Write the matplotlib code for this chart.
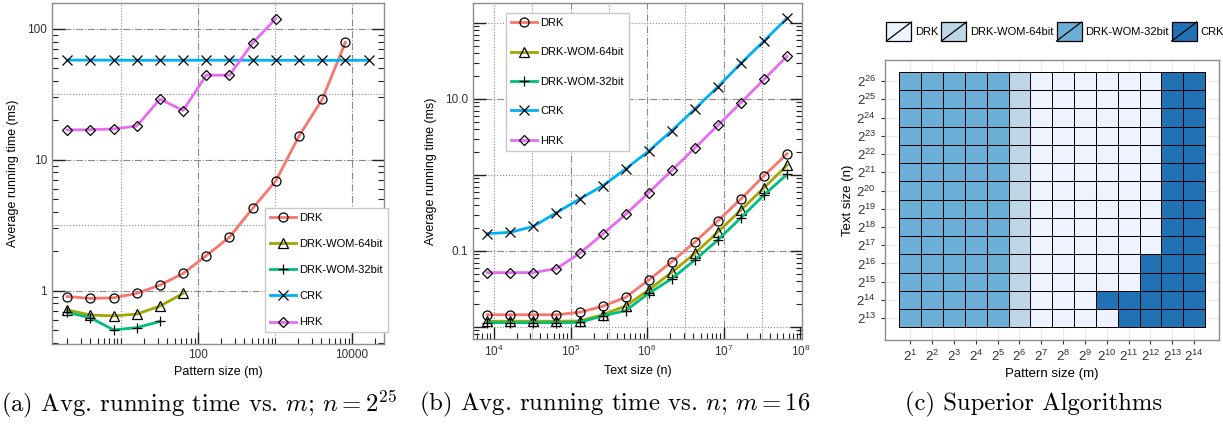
import numpy as np
import matplotlib
matplotlib.use('Agg')
import matplotlib.pyplot as plt
from matplotlib.patches import Rectangle, Patch
from matplotlib.lines import Line2D
from matplotlib.colors import ListedColormap, BoundaryNorm
from matplotlib.ticker import FixedLocator, LogLocator, NullFormatter, FixedFormatter

plt.rcParams['font.family'] = ['Liberation Sans', 'DejaVu Sans']
plt.rcParams['mathtext.fontset'] = 'cm'

# ---------------- data ----------------
series_names = ['DRK', 'DRK-WOM-64bit', 'DRK-WOM-32bit', 'CRK', 'HRK']
series_colors = ['#F8766D', '#A3A500', '#00BF7D', '#00B0F6', '#E76BF3']
series_markers = ['o', '^', '+', 'x', 'D']

# Panel (a): n = 2^25, pattern sizes m = 2^1 ... 2^14
a_m_exp = [1, 2, 3, 4, 5, 6, 7, 8, 9, 10, 11, 12, 13, 14]
a_drk = [0.90, 0.87, 0.88, 0.95, 1.10, 1.35, 1.85, 2.56, 4.25, 6.9, 15.2, 28.9, 79]
a_wom64 = [0.71, 0.65, 0.64, 0.66, 0.76, 0.95]
a_wom32 = [0.68, 0.62, 0.50, 0.52, 0.58]
a_crk = [57.8, 57.8, 57.8, 57.6, 57.7, 57.7, 57.7, 57.7, 57.7, 57.6, 57.6, 57.6, 57.6, 57.6]
a_hrk = [16.9, 17.0, 17.2, 18.1, 29.1, 23.8, 44.4, 44.2, 78.2, 120]

# Panel (b): m = 16, text sizes n = 2^13 ... 2^26
b_n_exp = [13, 14, 15, 16, 17, 18, 19, 20, 21, 22, 23, 24, 25, 26]
b_drk = [0.0145, 0.0145, 0.0145, 0.0145, 0.0156, 0.0187, 0.0246, 0.0415, 0.0724, 0.131, 0.25, 0.483, 0.98, 1.9]
b_wom64 = [0.0119, 0.0119, 0.0119, 0.0119, 0.0120, 0.0145, 0.0189, 0.0307, 0.0525, 0.093, 0.178, 0.347, 0.68, 1.34]
b_wom32 = [0.0114, 0.0114, 0.0114, 0.0114, 0.0115, 0.0140, 0.0164, 0.0277, 0.0432, 0.076, 0.14, 0.274, 0.546, 1.02]
b_crk = [0.169, 0.176, 0.211, 0.319, 0.483, 0.72, 1.2, 2.07, 3.83, 7.38, 14.5, 29.5, 58, 116]
b_hrk = [0.0519, 0.0519, 0.052, 0.0585, 0.093, 0.166, 0.304, 0.585, 1.15, 2.26, 4.51, 8.94, 18.1, 36.5]

# Panel (c): superior algorithm, rows n = 2^13..2^26, cols m = 2^1..2^14
c_names = ['DRK', 'DRK-WOM-64bit', 'DRK-WOM-32bit', 'CRK']
c_colors = ['#EFF3FF', '#BDD7E7', '#6BAED6', '#2171B5']
c_m_exp = [1, 2, 3, 4, 5, 6, 7, 8, 9, 10, 11, 12, 13, 14]
c_n_exp = [13, 14, 15, 16, 17, 18, 19, 20, 21, 22, 23, 24, 25, 26]
c_winner = [
    [2, 2, 2, 2, 2, 1, 0, 0, 0, 0, 3, 3, 3, 3],  # 2^13
    [2, 2, 2, 2, 2, 1, 0, 0, 0, 3, 3, 3, 3, 3],  # 2^14
    [2, 2, 2, 2, 2, 1, 0, 0, 0, 0, 0, 3, 3, 3],  # 2^15
    [2, 2, 2, 2, 2, 1, 0, 0, 0, 0, 0, 3, 3, 3],  # 2^16
    [2, 2, 2, 2, 2, 1, 0, 0, 0, 0, 0, 0, 3, 3],  # 2^17
    [2, 2, 2, 2, 2, 1, 0, 0, 0, 0, 0, 0, 3, 3],  # 2^18
    [2, 2, 2, 2, 2, 1, 0, 0, 0, 0, 0, 0, 3, 3],  # 2^19
    [2, 2, 2, 2, 2, 1, 0, 0, 0, 0, 0, 0, 3, 3],  # 2^20
    [2, 2, 2, 2, 2, 1, 0, 0, 0, 0, 0, 0, 3, 3],  # 2^21
    [2, 2, 2, 2, 2, 1, 0, 0, 0, 0, 0, 0, 3, 3],  # 2^22
    [2, 2, 2, 2, 2, 1, 0, 0, 0, 0, 0, 0, 3, 3],  # 2^23
    [2, 2, 2, 2, 2, 1, 0, 0, 0, 0, 0, 0, 3, 3],  # 2^24
    [2, 2, 2, 2, 2, 1, 0, 0, 0, 0, 0, 0, 3, 3],  # 2^25
    [2, 2, 2, 2, 2, 1, 0, 0, 0, 0, 0, 0, 3, 3],  # 2^26
]

captions = [r'(a) Avg. running time vs. $m$; $n = 2^{25}$',
            r'(b) Avg. running time vs. $n$; $m = 16$',
            r'(c) Superior Algorithms']

# ---------------- figure ----------------
W, H = 1223, 425
fig = plt.figure(figsize=(W / 100, H / 100), dpi=100)


def px_axes(l, t, r, b):
    return fig.add_axes([l / W, 1 - b / H, (r - l) / W, (b - t) / H])


SPINE = '#8c8c8c'
GRIDC = '#8a8a8a'
FS = 8.5


def style_line_axes(ax):
    for s in ax.spines.values():
        s.set_color(SPINE)
        s.set_linewidth(1.0)
    ax.tick_params(which='both', direction='in', left=True, right=True,
                   top=False, bottom=True, labelsize=FS, colors='#222222',
                   labelcolor='#333333')
    ax.tick_params(which='major', length=9, width=1.0)
    ax.tick_params(which='minor', length=4, width=0.8)


def plot_series(ax, x, ys):
    for y, name, c, mk in zip(ys, series_names, series_colors, series_markers):
        xs = x[:len(y)]
        ax.plot(xs, y, color=c, lw=2.0, zorder=3,
                marker=mk, markersize=6.5 if mk != 'D' else 5.5,
                markerfacecolor='none', markeredgecolor='black',
                markeredgewidth=0.9, label=name)


# ---- panel (a)
axa = px_axes(52, 3, 384, 344)
ma = 2.0 ** np.array(a_m_exp)
plot_series(axa, ma, [a_drk, a_wom64, a_wom32, a_crk, a_hrk])
axa.set_xscale('log')
axa.set_yscale('log')
axa.set_xlim(1.27, 26000)
axa.set_ylim(0.39, 158)
for v in [100, 10000]:
    axa.axvline(v, color=GRIDC, lw=0.8, ls='-.', zorder=0)
for v in [10, 1000]:
    axa.axvline(v, color=GRIDC, lw=0.8, ls=':', zorder=0)
for v in [1, 10, 100]:
    axa.axhline(v, color=GRIDC, lw=0.8, ls='-.', zorder=0)
for v in [10 ** 0.5, 10 ** 1.5]:
    axa.axhline(v, color=GRIDC, lw=0.8, ls=':', zorder=0)
axa.xaxis.set_major_locator(FixedLocator([100, 10000]))
axa.xaxis.set_major_formatter(FixedFormatter(['100', '10000']))
axa.xaxis.set_minor_locator(LogLocator(base=10, subs=np.arange(1, 10)))
axa.xaxis.set_minor_formatter(NullFormatter())
axa.yaxis.set_major_locator(FixedLocator([1, 10, 100]))
axa.yaxis.set_major_formatter(FixedFormatter(['1', '10', '100']))
axa.yaxis.set_minor_locator(LogLocator(base=10, subs=np.arange(2, 10)))
axa.yaxis.set_minor_formatter(NullFormatter())
style_line_axes(axa)
axa.set_xlabel('Pattern size (m)', fontsize=9, labelpad=4)
axa.set_ylabel('Average running time (ms)', fontsize=9, labelpad=6)

leg_kw = dict(fontsize=8, handlelength=2.3, handletextpad=0.35,
              borderpad=0.45, borderaxespad=0, fancybox=False, framealpha=1,
              edgecolor='#c8c8c8', loc='upper left')
la = axa.legend(bbox_to_anchor=(265 / W, 1 - 208 / H), bbox_transform=fig.transFigure,
                labelspacing=1.45, **leg_kw)
la.get_frame().set_linewidth(1.0)

# ---- panel (b)
axb = px_axes(473, 3, 802, 339)
nb = 2.0 ** np.array(b_n_exp)
plot_series(axb, nb, [b_drk, b_wom64, b_wom32, b_crk, b_hrk])
axb.set_xscale('log')
axb.set_yscale('log')
axb.set_xlim(5330, 1.05e8)
axb.set_ylim(0.00695, 183)
for v in [1e5, 1e6, 1e7]:
    axb.axvline(v, color=GRIDC, lw=0.8, ls='-.', zorder=0)
for v in [10 ** 4, 10 ** 4.5, 10 ** 5.5, 10 ** 6.5, 10 ** 7.5]:
    axb.axvline(v, color=GRIDC, lw=0.8, ls=':', zorder=0)
for v in [0.1, 10]:
    axb.axhline(v, color=GRIDC, lw=0.8, ls='-.', zorder=0)
for v in [0.01, 1, 100]:
    axb.axhline(v, color=GRIDC, lw=0.8, ls=':', zorder=0)
axb.xaxis.set_major_locator(FixedLocator([1e4, 1e5, 1e6, 1e7, 1e8]))
axb.xaxis.set_major_formatter(FixedFormatter([r'$\mathregular{10^{%d}}$' % k for k in [4, 5, 6, 7, 8]]))
axb.xaxis.set_minor_locator(LogLocator(base=10, subs=np.arange(2, 10)))
axb.xaxis.set_minor_formatter(NullFormatter())
axb.yaxis.set_major_locator(FixedLocator([0.01, 0.1, 1, 10, 100]))
axb.yaxis.set_major_formatter(FixedFormatter(['', '0.1', '', '10.0', '']))
axb.yaxis.set_minor_locator(LogLocator(base=10, subs=np.arange(2, 10)))
axb.yaxis.set_minor_formatter(NullFormatter())
style_line_axes(axb)
axb.set_xlabel('Text size (n)', fontsize=9, labelpad=4)
axb.set_ylabel('Average running time (ms)', fontsize=9, labelpad=6)
lb = axb.legend(bbox_to_anchor=(506 / W, 1 - 13 / H), bbox_transform=fig.transFigure,
                labelspacing=1.75, **leg_kw)
lb.get_frame().set_linewidth(1.0)

# ---- panel (c)
axc = px_axes(885, 60, 1219, 340)
cmap = ListedColormap(c_colors)
norm = BoundaryNorm([-0.5, 0.5, 1.5, 2.5, 3.5], cmap.N)
xe = np.arange(len(c_m_exp) + 1) + 0.5
ye = np.arange(len(c_n_exp) + 1) + 0.5
axc.pcolormesh(xe, ye, np.array(c_winner), cmap=cmap, norm=norm,
               edgecolors='black', linewidth=0.7, zorder=2)
axc.set_xlim(0.5 - 0.66, len(c_m_exp) + 0.5 + 0.64)
axc.set_ylim(0.5 - 0.7, len(c_n_exp) + 0.5 + 0.66)
axc.set_xticks(np.arange(1, len(c_m_exp) + 1))
axc.set_xticklabels([r'$\mathregular{2^{%d}}$' % k for k in c_m_exp])
axc.set_yticks(np.arange(1, len(c_n_exp) + 1))
axc.set_yticklabels([r'$\mathregular{2^{%d}}$' % k for k in c_n_exp])
axc.grid(True, color='#ebebeb', lw=0.8, zorder=0)
axc.set_axisbelow(True)
for s in axc.spines.values():
    s.set_color('#8c8c8c')
    s.set_linewidth(1.0)
axc.tick_params(direction='out', length=3, width=0.8, colors='#333333',
                labelsize=9.5, labelcolor='#333333')
axc.set_xlabel('Pattern size (m)', fontsize=9.5, labelpad=3)
axc.set_ylabel('Text size (n)', fontsize=9.5, labelpad=2)


class DiagHandler:
    def legend_artist(self, legend, orig_handle, fontsize, handlebox):
        x0, y0 = -handlebox.xdescent, -handlebox.ydescent
        w, h = handlebox.width, handlebox.height
        r = Rectangle((x0, y0), w, h, facecolor=orig_handle.get_facecolor(),
                      edgecolor='black', lw=0.9, transform=handlebox.get_transform())
        ln = Line2D([x0, x0 + w], [y0, y0 + h], color='black', lw=0.9,
                    transform=handlebox.get_transform())
        handlebox.add_artist(r)
        handlebox.add_artist(ln)
        return r


c_handles = [Patch(facecolor=c, label=n) for c, n in zip(c_colors, c_names)]
fig.legend(handles=c_handles, handler_map={Patch: DiagHandler()}, ncol=4,
           loc='center', bbox_to_anchor=(1055 / W, 1 - 31.5 / H),
           fontsize=8, handlelength=2.25, handleheight=2.25, handletextpad=0.3,
           columnspacing=0.3, frameon=False, borderpad=0.2)

# ---- captions
cap_x = [199, 615, 1034]
for cx, txt in zip(cap_x, captions):
    fig.text(cx / W, 1 - 404 / H, txt, ha='center', va='center',
             fontsize=17.8, family='cmr10')

fig.savefig('out.png', dpi=100)
